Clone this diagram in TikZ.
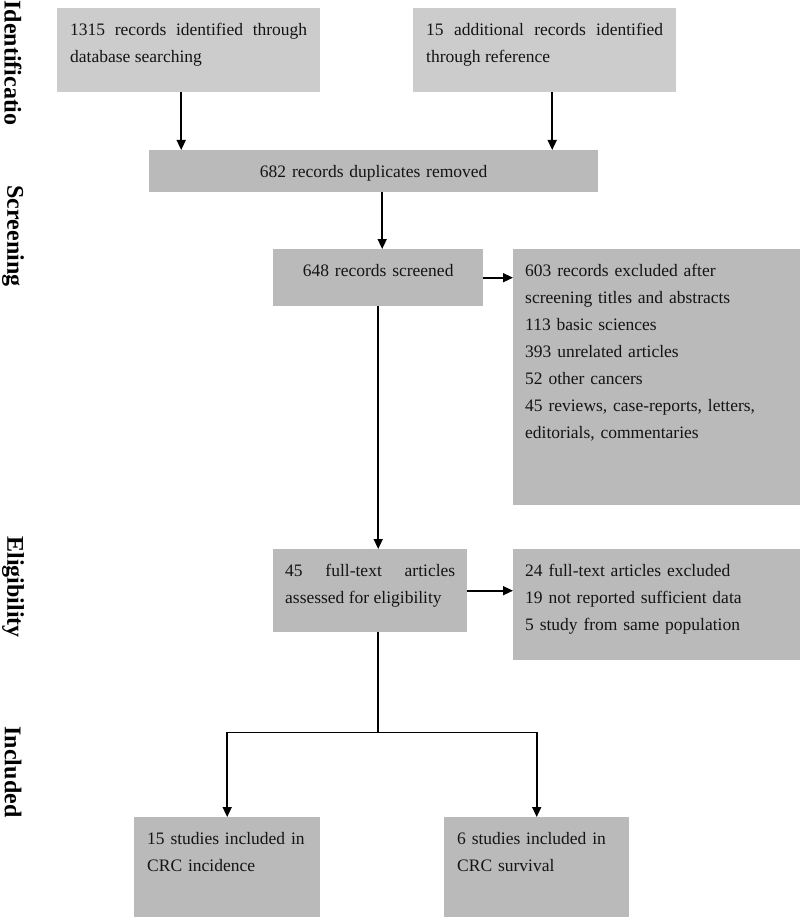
\documentclass[tikz,border=0pt]{standalone}
\usepackage{fontspec}
\setmainfont{Liberation Serif}
\usepackage{tikz}
\usetikzlibrary{arrows.meta, positioning, calc}

\begin{document}
\begin{tikzpicture}[x=1pt, y=-1pt, >={Triangle[length=10pt,width=9pt]},
	box/.style={anchor=north west, inner xsep=13pt, inner ysep=7pt, text height=20pt,
		font=\fontsize{17.5}{27}\selectfont, text=black!92},
	lightbox/.style={box, fill=black!20},
	darkbox/.style={box, fill=black!27},
	phase/.style={rotate=-90, font=\fontsize{24}{24}\selectfont\bfseries},
	arr/.style={->, line width=1.6pt}]

	\useasboundingbox (0,0) rectangle (800,917);

		% Fases
		\node[phase] (fident) at (13,63) {Identificatio};
		\node[phase] (fscreen) at (13,236) {Screening};
		\node[phase] (felig) at (13,587) {Eligibility};
		\node[phase] (fincl) at (13,772) {Included};

		% Cajas
		\node[lightbox, text width=237pt, align=justify, text depth=50pt] (recdb) at (57,8)
			{1315 records identified through database searching};
		\node[lightbox, text width=237pt, align=justify, text depth=50pt] (recref) at (413,8)
			{15 additional records identified through reference};

		\node[darkbox, text width=423pt, align=center, text depth=8pt] (dup) at (149,150)
			{682 records duplicates removed};

		\node[darkbox, text width=184pt, align=center, text depth=23pt] (screen) at (273,249)
			{648 records screened};
		\node[darkbox, inner xsep=12pt, text width=263pt, align=left, text depth=222pt] (excl) at (513,249)
			{603 records excluded after\\ screening titles and abstracts\\ 113 basic sciences\\
			 393 unrelated articles\\ 52 other cancers\\ 45 reviews, case-reports, letters,\\
			 editorials, commentaries};

		\node[darkbox, inner xsep=12pt, text width=170pt, align=justify, text depth=49pt] (full) at (273,549)
			{45 full-text articles\linebreak assessed for eligibility};
		\node[darkbox, inner xsep=12pt, text width=263pt, align=left, text depth=77pt] (fexcl) at (513,549)
			{24 full-text articles excluded\\ 19 not reported sufficient data\\ 5 study from same population};

		\node[darkbox, text width=160pt, align=left, text depth=66pt] (incid) at (134,817)
			{15 studies included in\\ CRC incidence};
		\node[darkbox, text width=159pt, align=left, text depth=66pt] (surv) at (444,817)
			{6 studies included in\\ CRC survival};

		% Flechas
		\draw[arr] ([xshift=-7.5pt]recdb.south) -- ([xshift=-7.5pt]recdb.south |- dup.north);
		\draw[arr] ([xshift=7.5pt]recref.south) -- ([xshift=7.5pt]recref.south |- dup.north);
		\draw[arr] ([xshift=4pt]screen.north |- dup.south) -- ([xshift=4pt]screen.north);
		\draw[arr] (screen.east) -- (screen.east -| excl.west);
		\draw[arr] (screen.south) -- (screen.south |- full.north);
		\draw[arr] (full.east) -- (full.east -| fexcl.west);

		\coordinate (split) at ($(screen.south |- full.south) + (0,100)$);
		\draw[line width=1.6pt] (screen.south |- full.south) -- (split);
		\draw[arr] (split) -| (incid.north);
		\draw[arr] (split) -| (surv.north);
	\end{tikzpicture}
\end{document}
